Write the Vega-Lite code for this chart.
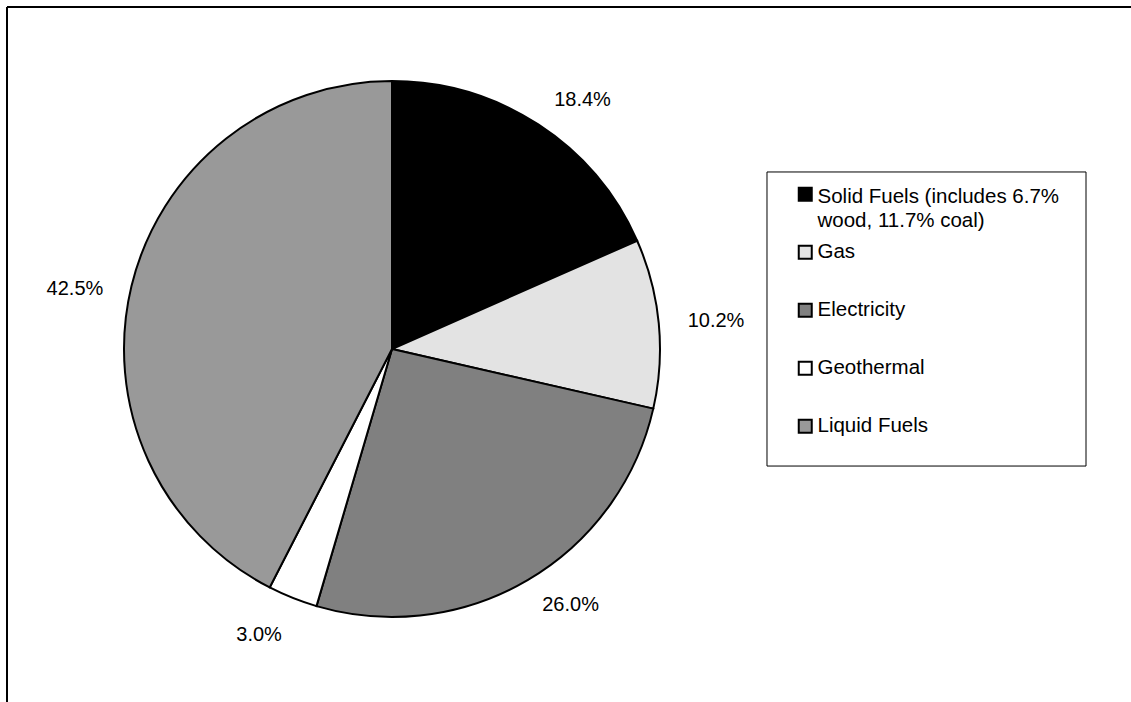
{
  "$schema": "https://vega.github.io/schema/vega-lite/v6.json",
  "width": 770,
  "height": 684,
  "autosize": {"type": "none"},
  "padding": {"left": 7, "top": 7, "right": 354, "bottom": 11},
  "background": "white",
  "config": {
    "view": {"stroke": null},
    "font": "Liberation Sans",
    "text": {"font": "Liberation Sans"}
  },
  "data": {
    "values": [
      {"idx": 1, "category": "Solid Fuels (includes 6.7% wood, 11.7% coal)", "share": 0.184},
      {"idx": 2, "category": "Gas", "share": 0.102},
      {"idx": 3, "category": "Electricity", "share": 0.260},
      {"idx": 4, "category": "Geothermal", "share": 0.030},
      {"idx": 5, "category": "Liquid Fuels", "share": 0.425}
    ]
  },
  "layer": [
    {
      "data": {"values": [{"frame": "top"}]},
      "mark": {"type": "rule", "color": "black", "strokeWidth": 2, "clip": false},
      "encoding": {
        "x": {"datum": 0, "type": "quantitative", "scale": {"domain": [0, 100], "nice": false, "zero": false}, "axis": null},
        "x2": {"datum": 146.9},
        "y": {"datum": 0, "type": "quantitative", "scale": {"domain": [0, 100], "nice": false, "zero": false, "reverse": true}, "axis": null}
      }
    },
    {
      "data": {"values": [{"frame": "left"}]},
      "mark": {"type": "rule", "color": "black", "strokeWidth": 2, "clip": false},
      "encoding": {
        "x": {"datum": 0, "type": "quantitative"},
        "y": {"datum": 0, "type": "quantitative"},
        "y2": {"datum": 102}
      }
    },
    {
      "data": {"values": [{"frame": "legend box"}]},
      "mark": {"type": "rect", "fill": "white", "stroke": "black", "strokeWidth": 1, "clip": false},
      "encoding": {
        "x": {"datum": 98.7, "type": "quantitative"},
        "x2": {"datum": 140.13},
        "y": {"datum": 24.12, "type": "quantitative"},
        "y2": {"datum": 67.11}
      }
    },
    {
      "mark": {"type": "arc", "outerRadius": 268, "stroke": "black", "strokeWidth": 2},
      "encoding": {
        "theta": {"field": "share", "type": "quantitative", "stack": true},
        "order": {"field": "idx", "type": "quantitative"},
        "color": {
          "field": "category",
          "type": "nominal",
          "sort": ["Solid Fuels (includes 6.7% wood, 11.7% coal)", "Gas", "Electricity", "Geothermal", "Liquid Fuels"],
          "scale": {
            "domain": ["Solid Fuels (includes 6.7% wood, 11.7% coal)", "Gas", "Electricity", "Geothermal", "Liquid Fuels"],
            "range": ["#000000", "#e3e3e3", "#808080", "#ffffff", "#999999"]
          },
          "legend": {
            "orient": "none",
            "legendX": 788,
            "legendY": 177,
            "title": null,
            "padding": 0,
            "symbolType": "square",
            "symbolSize": 169,
            "symbolStrokeColor": "black",
            "symbolStrokeWidth": 2,
            "symbolOffset": 0,
            "labelOffset": 2,
            "labelFont": "Liberation Sans",
            "labelFontSize": 20.5,
            "labelColor": "black",
            "labelLimit": 400,
            "rowPadding": 9,
            "gridAlign": "all",
            "labelExpr": "indexof(datum.label, 'Solid') === 0 ? ['Solid Fuels (includes 6.7%', 'wood, 11.7% coal)'] : datum.label",
            "encode": {
              "labels": {"update": {"dy": {"signal": "indexof(datum.value, 'Solid') === 0 ? 3 : 0"}, "lineHeight": {"value": 24}}}
            }
          }
        }
      }
    },
    {
      "mark": {"type": "text", "radius": 297, "align": "left", "baseline": "middle", "fontSize": 20, "color": "black", "font": "Liberation Sans"},
      "encoding": {
        "theta": {"field": "share", "type": "quantitative", "stack": true},
        "order": {"field": "idx", "type": "quantitative"},
        "text": {"condition": {"test": "datum.idx <= 3", "field": "share", "type": "quantitative", "format": ".1%"}, "value": ""}
      }
    },
    {
      "mark": {"type": "text", "radius": 297, "align": "right", "baseline": "top", "fontSize": 20, "color": "black", "font": "Liberation Sans"},
      "encoding": {
        "theta": {"field": "share", "type": "quantitative", "stack": true},
        "order": {"field": "idx", "type": "quantitative"},
        "text": {"condition": {"test": "datum.idx > 3", "field": "share", "type": "quantitative", "format": ".1%"}, "value": ""}
      }
    }
  ]
}
